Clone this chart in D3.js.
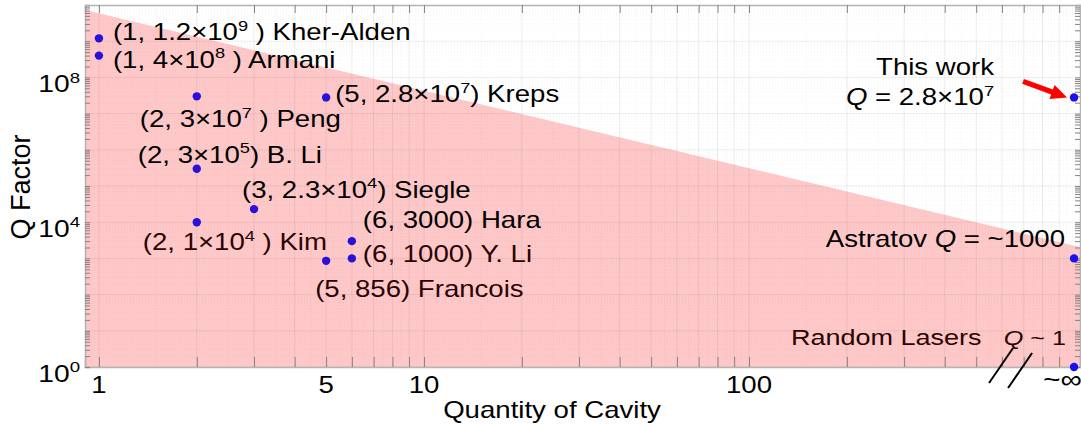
<!DOCTYPE html>
<html>
<head>
  <meta charset='utf-8'>
  <script src="https://d3js.org/d3.v7.min.js"></script>
  <style>
    body { margin: 0; background: #fff; }
    text { font-family: "Liberation Sans", Arial, sans-serif; }
  </style>
</head>
<body>
  <div id="container"></div>
  <script>
  const width = 1081, height = 428;

  // data
  const cavities = [1, 1, 2, 5, 2, 3, 2, 6, 6, 5];
  const qFactors = [1.2e9, 4e8, 3e7, 2.8e7, 3e5, 2.3e4, 1e4, 3000, 1000, 856];
  const labels = ["(1, 1.2×10^9 ) Kher-Alden", "(1, 4×10^8 ) Armani", "(2, 3×10^7 ) Peng",
    "(5, 2.8×10^7) Kreps", "(2, 3×10^5) B. Li", "(3, 2.3×10^4) Siegle", "(2, 1×10^4 ) Kim",
    "(6, 3000) Hara", "(6, 1000) Y. Li", "(5, 856) Francois"];
  // label offsets from the dot, px
  const labelOffsets = [[14, 2], [14, 12], [-57, 31], [9, 5], [-59, -6], [-12, -11],
    [-54, 28], [11, -13], [11, 4], [-11, 36]];

  // "infinite" cavity column, drawn at N = 1000
  const infN = 1000;
  const infQ = [2.8e7, 1000, 1];

  const xTickValues = [1, 5, 10, 100];
  const yTickValues = [1, 1e4, 1e8];

  // pink region upper edge
  const boundaryN = [0.906, 1043];
  const boundaryQ = [7.3e9, 2065];

  const xDomain = [0.906, 1043], yDomain = [1, 1e10];
  const SX = 1.2; // text in the figure is stretched sideways
  const FS = 23;

  const svg = d3.select("#container").append("svg")
    .attr("width", width).attr("height", height);

  const x = d3.scaleLog().domain(xDomain).range([85, 1080]);
  const y = d3.scaleLog().domain(yDomain).range([367, 5]);

  // writes text with ^n superscripts and *italic* parts
  function rich(g, px, py, str, size, anchor, fill) {
    const t = g.append("text")
      .attr("transform", `translate(${px},${py}) scale(${SX},1)`)
      .attr("font-size", size)
      .attr("text-anchor", anchor || "start")
      .attr("fill", fill || "#000");
    const parts = str.split(/(\^\d+|\*[^*]+\*)/).filter(s => s.length);
    let up = false;
    parts.forEach(p => {
      if (p[0] === "^") {
        t.append("tspan").attr("font-size", size * 0.66).attr("dy", -size * 0.42).text(p.slice(1));
        up = true;
      } else {
        const s = t.append("tspan").text(p[0] === "*" ? p.slice(1, -1) : p);
        if (p[0] === "*") s.attr("font-style", "italic");
        if (up) { s.attr("dy", size * 0.42); up = false; }
      }
    });
    return t;
  }

  // pink region
  const area = [[boundaryN[0], boundaryQ[0]], [boundaryN[1], boundaryQ[1]],
    [boundaryN[1], yDomain[0]], [boundaryN[0], yDomain[0]]];
  svg.append("path")
    .attr("d", d3.line().x(d => x(d[0])).y(d => y(d[1]))(area) + "Z")
    .attr("fill", "#ffc8c8");

  // grid
  const xMinor = [];
  [1, 10, 100].forEach(d => { for (let k = 1; k < 10; k++) xMinor.push(d * k); });
  const yMinor = [];
  for (let e = 0; e < 10; e++) for (let k = 1; k < 10; k++) yMinor.push(k * Math.pow(10, e));
  const xFine = [];
  [1, 10, 100].forEach(d => { for (let k = 1; k < 10; k++) xFine.push(d * (k + 0.5)); });

  const grid = svg.append("g");
  grid.selectAll(".gx").data(xMinor.filter(v => v > xDomain[0] && v < xDomain[1])).enter()
    .append("line").attr("x1", d => x(d)).attr("x2", d => x(d)).attr("y1", 5).attr("y2", 367)
    .attr("stroke", "rgba(0,0,0,0.07)").attr("stroke-width", 1);
  grid.selectAll(".gf").data(xFine.filter(v => v < xDomain[1])).enter()
    .append("line").attr("x1", d => x(d)).attr("x2", d => x(d)).attr("y1", 5).attr("y2", 367)
    .attr("stroke", "rgba(0,0,0,0.045)").attr("stroke-dasharray", "1,2");
  grid.selectAll(".gy").data(yMinor).enter()
    .append("line").attr("x1", 85).attr("x2", 1080).attr("y1", d => y(d)).attr("y2", d => y(d))
    .attr("stroke", d => Math.log10(d) % 1 === 0 ? "rgba(0,0,0,0.07)" : "rgba(0,0,0,0.045)")
    .attr("stroke-dasharray", d => Math.log10(d) % 1 === 0 ? null : "1,2");

  // axes
  const xAxis = d3.axisBottom(x).tickValues(xMinor.filter(v => v > xDomain[0]))
    .tickSize(-10).tickFormat("");
  svg.append("g").attr("transform", "translate(0,367)").call(xAxis);
  const xTop = d3.axisTop(x).tickValues(xMinor.filter(v => v > xDomain[0]))
    .tickSize(-8).tickFormat("");
  svg.append("g").attr("transform", "translate(0,5)").call(xTop);
  const yAxis = d3.axisLeft(y).tickValues(yMinor).tickSize(-5).tickFormat("");
  svg.append("g").attr("transform", "translate(85,0)").call(yAxis);
  const yRight = d3.axisRight(y).tickValues(yMinor).tickSize(-5).tickFormat("");
  svg.append("g").attr("transform", "translate(1080,0)").call(yRight);
  svg.selectAll(".domain").attr("stroke", "#b4b4b4").attr("stroke-width", 1.5);
  svg.selectAll(".tick line").attr("stroke", "#8c8080");

  // tick labels
  const labelsG = svg.append("g");
  xTickValues.forEach(v => rich(labelsG, x(v), 393, String(v), 23, "middle"));
  rich(labelsG, 1043, 388, "~∞", 25, "start");
  yTickValues.forEach(v => rich(labelsG, 80, y(v) + 15, "10^" + Math.round(Math.log10(v)), 23.5, "end"));

  rich(labelsG, 552, 418, "Quantity of Cavity", FS, "middle");
  svg.append("text")
    .attr("transform", "translate(30,187) rotate(-90)")
    .attr("text-anchor", "middle").attr("font-size", 27).text("Q Factor");

  // axis break marks
  const bx = x(infN), by = y(yDomain[0]);
  [[-85, 16, -61, -19], [-66, 21, -42, -14]].forEach(s => {
    svg.append("line").attr("x1", bx + s[0]).attr("y1", by + s[1]).attr("x2", bx + s[2]).attr("y2", by + s[3])
      .attr("stroke", "#000").attr("stroke-width", 2);
  });

  // dots
  const dotColor = "#2a10d8";
  svg.selectAll(".dot").data(cavities).enter().append("circle")
    .attr("cx", d => x(d)).attr("cy", (d, i) => y(qFactors[i])).attr("r", 4.2)
    .attr("fill", dotColor);
  svg.selectAll(".inf").data(infQ).enter().append("circle")
    .attr("cx", x(infN)).attr("cy", d => y(d)).attr("r", 4.2)
    .attr("fill", "#1a10f0");

  // point labels
  labels.forEach((s, i) => {
    rich(labelsG, x(cavities[i]) + labelOffsets[i][0], y(qFactors[i]) + labelOffsets[i][1], s, FS, "start",
      i >= 8 || i === 6 ? "#2a0404" : "#000");
  });

  // right column annotations
  const ix = x(infN);
  rich(labelsG, ix - 80, y(infQ[0]) - 22, "This work", FS, "end");
  rich(labelsG, ix - 80, y(infQ[0]) + 8, "*Q* = 2.8×10^7", FS, "end");
  rich(labelsG, ix - 9, y(infQ[1]) - 11, "Astratov  *Q* = ~1000", FS, "end");
  rich(labelsG, ix - 283, y(infQ[2]) - 22, "Random Lasers", 22.5, "start", "#2a0404");
  rich(labelsG, ix - 8, y(infQ[2]) - 22, "*Q* ~ 1", 21, "end", "#2a0404");

  // red arrow to this work
  const ay = y(infQ[0]);
  const tip = [ix - 7, ay], tail = [ix - 51, ay - 16];
  const ang = Math.atan2(tip[1] - tail[1], tip[0] - tail[0]);
  const rot = (p) => [tip[0] + p[0] * Math.cos(ang) - p[1] * Math.sin(ang),
                      tip[1] + p[0] * Math.sin(ang) + p[1] * Math.cos(ang)];
  const len = Math.hypot(tip[0] - tail[0], tip[1] - tail[1]);
  const arrowPts = [[0, 0], [-16, -7.5], [-16, -2.6], [-len, -2.6], [-len, 2.6], [-16, 2.6], [-16, 7.5]].map(rot);
  svg.append("path").attr("d", d3.line()(arrowPts) + "Z").attr("fill", "#ff0000");
  </script>
</body>
</html>
